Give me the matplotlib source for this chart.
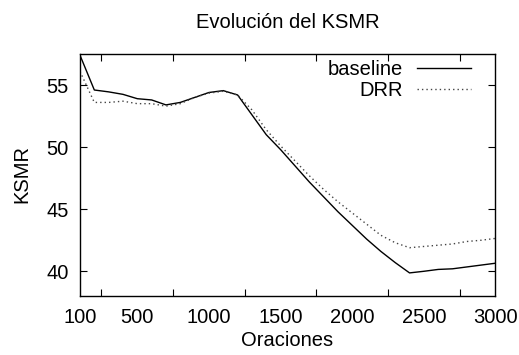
import matplotlib
matplotlib.use("Agg")
import matplotlib.pyplot as plt

plt.rcParams['font.family'] = ['Liberation Sans', 'DejaVu Sans']

oraciones = [100, 200, 300, 400, 500, 600, 700, 800, 900, 1000, 1100, 1200,
             1300, 1400, 1500, 1600, 1700, 1800, 1900, 2000, 2100, 2200, 2300,
             2400, 2500, 2600, 2700, 2800, 2900, 3000]
baseline = [57.4, 54.6, 54.45, 54.25, 53.9, 53.8, 53.4, 53.6, 54.0, 54.4, 54.55, 54.2,
            52.6, 51.0, 49.8, 48.5, 47.2, 46.0, 44.8, 43.7, 42.6, 41.6, 40.7,
            39.87, 40.0, 40.15, 40.2, 40.35, 40.5, 40.65]
drr = [56.1, 53.6, 53.6, 53.7, 53.5, 53.5, 53.3, 53.5, 54.0, 54.35, 54.5, 54.2,
       53.0, 51.4, 50.1, 48.9, 47.7, 46.6, 45.6, 44.7, 43.8, 42.9, 42.3,
       41.9, 42.0, 42.1, 42.2, 42.4, 42.5, 42.65]
xtick_labels = [100, 500, 1000, 1500, 2000, 2500, 3000]
xtick_marks = [250, 500, 750, 1000, 1250, 1500, 1750, 2000, 2250, 2500, 2750]
yticks = [40, 45, 50, 55]

FS = 14.5
W, H = 519, 355
fig = plt.figure(figsize=(W/100, H/100), dpi=100)
ax = fig.add_axes([80/W, 1-295.5/H, (495.5-80)/W, (295.5-54)/H])

ax.plot(oraciones, baseline, color='black', lw=1.0, label='baseline')
ax.plot(oraciones, drr, color='#444444', lw=1.0, ls=(0, (1, 2.2)), label='DRR')

ax.set_xlim(100, 3000)
ax.set_ylim(38.05, 57.5)

ax.set_xticks(xtick_labels)
ax.set_xticklabels([str(v) for v in xtick_labels])
ax.set_xticks(xtick_marks, minor=True)
ax.set_yticks(yticks)
ax.tick_params(which='both', direction='in', top=True, right=True, labelsize=FS,
               width=0.8, color='black')
ax.tick_params(which='major', length=5)
ax.tick_params(axis='y', which='major', pad=8)
ax.tick_params(axis='x', which='major', pad=9)
ax.tick_params(which='minor', length=5)
ax.tick_params(axis='x', which='major', length=0)
for s in ax.spines.values():
    s.set_linewidth(1.0)

fig.text(287.5/W, 1-23/H, 'Evolución del KSMR', fontsize=FS, ha='center', va='center')
fig.text(287.5/W, 1-340/H, 'Oraciones', fontsize=FS, ha='center', va='center')
fig.text(22/W, 1-174/H, 'KSMR', fontsize=FS, ha='center', va='center', rotation=90)

ax.legend(loc='upper right', markerfirst=False, frameon=False, fontsize=FS,
          handlelength=2.7, handletextpad=0.7, labelspacing=0.1,
          borderpad=0, borderaxespad=0,
          bbox_to_anchor=(471/W, 1-60/H), bbox_transform=fig.transFigure)

fig.savefig('out.png', dpi=100)
